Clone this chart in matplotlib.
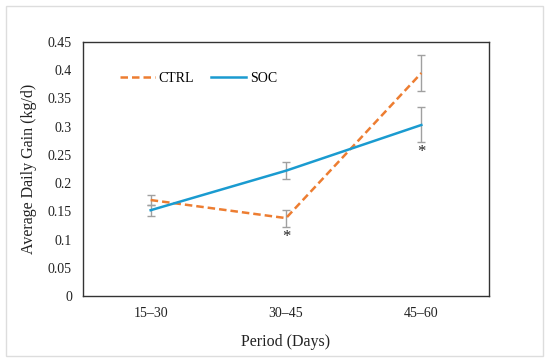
import matplotlib
matplotlib.use("Agg")
import matplotlib.pyplot as plt
from matplotlib.patches import Rectangle

periods = ["15–30", "30–45", "45–60"]
ctrl = [0.170, 0.138, 0.395]
ctrl_err = [0.009, 0.015, 0.032]
soc = [0.152, 0.222, 0.303]
soc_err = [0.010, 0.015, 0.031]
yticks = [0, 0.05, 0.1, 0.15, 0.2, 0.25, 0.3, 0.35, 0.4, 0.45]
ytick_labels = ["0", "0.05", "0.1", "0.15", "0.2", "0.25", "0.3", "0.35", "0.4", "0.45"]
star_marks = [(1, 0.105), (2, 0.255)]

plt.rcParams['font.family'] = ['Liberation Serif', 'DejaVu Serif']

fig = plt.figure(figsize=(5.5, 3.62), dpi=100)
ax = fig.add_axes([83/550, 1-296/362, 406/550, 254/362])

x = list(range(len(periods)))
orange = "#ED7D31"
blue = "#1A9BD0"
grey = "#A0A0A0"

ax.errorbar(x, ctrl, yerr=ctrl_err, fmt='none', ecolor=grey, elinewidth=1.0, capsize=3, capthick=1.0, zorder=2)
ax.errorbar(x, soc, yerr=soc_err, fmt='none', ecolor=grey, elinewidth=1.0, capsize=3, capthick=1.0, zorder=2)
ax.plot(x, ctrl, color=orange, lw=1.8, ls=(0, (3, 1.6)), label="CTRL", zorder=3)
ax.plot(x, soc, color=blue, lw=1.8, label="SOC", zorder=3)

for xi, yi in star_marks:
    ax.text(xi, yi, "*", ha='center', va='center', fontsize=12, color='#222222')

ax.set_xlim(-0.5, 2.5)
ax.set_ylim(0, 0.45)
ax.set_yticks(yticks)
ax.set_yticklabels(ytick_labels)
ax.set_xticks(x)
ax.set_xticklabels(periods)
ax.tick_params(axis='both', length=0, labelsize=10, colors='#222222', pad=8)
for s in ax.spines.values():
    s.set_color('#333333')
    s.set_linewidth(1.0)

ax.set_ylabel("Average Daily Gain (kg/d)", fontsize=11.5, color='#222222', labelpad=8)
ax.set_xlabel("Period (Days)", fontsize=11.5, color='#222222', labelpad=10)

leg = ax.legend(loc='upper left', bbox_to_anchor=(0.06, 0.93), ncol=2, frameon=False,
                fontsize=10, handlelength=2.5, handletextpad=0.3, columnspacing=1.2)

fig.patches.append(Rectangle((6/550, 6/362), 537/550, 350/362, transform=fig.transFigure,
                             fill=False, edgecolor='#DDDDDD', lw=1.0))

fig.savefig("out.png", dpi=100)
